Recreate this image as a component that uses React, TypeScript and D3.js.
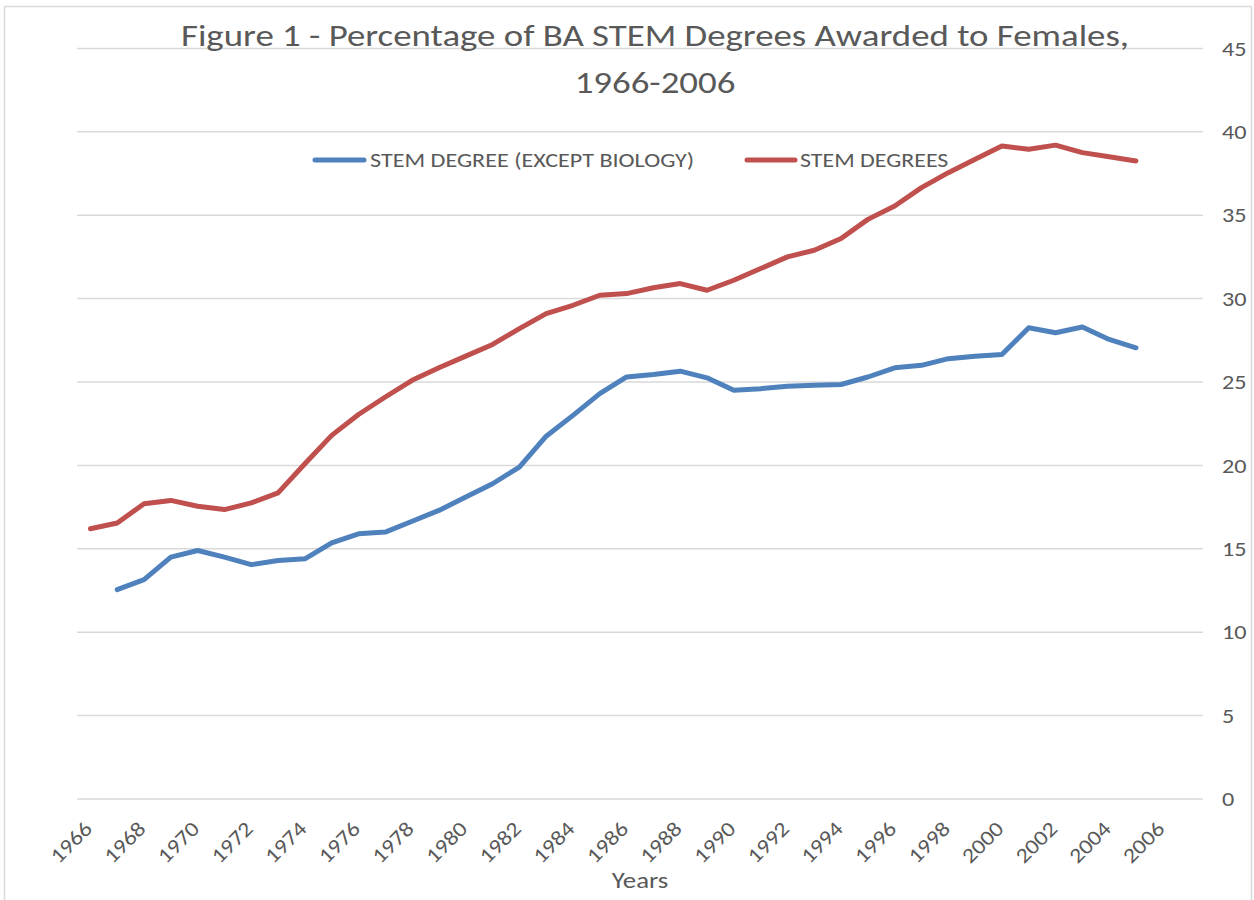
import React from "react";
import * as d3 from "d3";

const years: number[] = d3.range(1966, 2008);
const tickYears: number[] = d3.range(1966, 2007, 2);
const yTicks: number[] = [0, 5, 10, 15, 20, 25, 30, 35, 40, 45];

const stemYears: number[] = d3.range(1966, 2006);
const stemValues: number[] = [
  16.2, 16.55, 17.7, 17.9, 17.55, 17.35, 17.75, 18.35, 20.1, 21.8,
  23.05, 24.1, 25.1, 25.85, 26.55, 27.25, 28.2, 29.1, 29.6, 30.2,
  30.3, 30.65, 30.9, 30.5, 31.1, 31.8, 32.5, 32.9, 33.6, 34.75,
  35.55, 36.65, 37.55, 38.35, 39.15, 38.95, 39.2, 38.75, 38.5, 38.25,
];

const exBioYears: number[] = d3.range(1967, 2006);
const exBioValues: number[] = [
  12.55, 13.15, 14.5, 14.9, 14.5, 14.05, 14.3, 14.4, 15.35,
  15.9, 16.0, 16.65, 17.3, 18.1, 18.9, 19.9, 21.75, 23.0, 24.3,
  25.3, 25.45, 25.65, 25.25, 24.5, 24.6, 24.75, 24.8, 24.85, 25.3,
  25.85, 26.0, 26.4, 26.55, 26.65, 28.25, 27.95, 28.3, 27.55, 27.05,
];

const titleLines: string[] = [
  "Figure 1 - Percentage of BA STEM Degrees Awarded to Females,",
  "1966-2006",
];
const seriesNames: string[] = ["STEM DEGREE (EXCEPT BIOLOGY)", "STEM DEGREES"];
const seriesColors: string[] = ["#4F81BD", "#C0504D"];

const FONT = "Carlito, Lato, 'Open Sans', sans-serif";
const TEXT = "#595959";

export default function App() {
  const W = 1254;
  const H = 900;
  const x = d3.scaleBand<number>().domain(years).range([77, 1203]).padding(0);
  const cx = (yr: number) => (x(yr) as number) + x.bandwidth() / 2;
  const y = d3.scaleLinear().domain([0, 45]).range([799, 48.4]);

  const line = d3
    .line<[number, number]>()
    .x((d) => cx(d[0]))
    .y((d) => y(d[1]));

  const exBio: [number, number][] = exBioYears.map((yr, i) => [yr, exBioValues[i]]);
  const stem: [number, number][] = stemYears.map((yr, i) => [yr, stemValues[i]]);

  return (
    <svg
      width={W}
      height={H}
      style={{ position: "absolute", left: 0, top: 0, background: "#fff" }}
      fontFamily={FONT}
    >
      <rect x={0} y={0} width={W} height={H} fill="#fff" />
      <rect x={4.5} y={6.5} width={1247} height={920} fill="none" stroke="#d9d9d9" strokeWidth={1.5} />

      {yTicks.map((t) => (
        <g key={t}>
          <line x1={77} x2={1203} y1={y(t)} y2={y(t)} stroke="#d9d9d9" strokeWidth={1.5} />
          <text
            transform={`translate(1222,${y(t)}) scale(1.18,1)`}
            dy="0.35em"
            fontSize={20.5}
            fill={TEXT}
            textAnchor="start"
          >
            {t}
          </text>
        </g>
      ))}

      {tickYears.map((yr) => (
        <text
          key={yr}
          transform={`translate(${cx(yr) + 3},${830}) rotate(-45) scale(1.15,1)`}
          fontSize={21}
          fill={TEXT}
          textAnchor="end"
        >
          {yr}
        </text>
      ))}

      <text transform="translate(640,888) scale(1.22,1)" fontSize={22} fill={TEXT} textAnchor="middle">
        Years
      </text>

      {titleLines.map((t, i) => (
        <text
          key={i}
          transform={`translate(655,${46 + i * 47}) scale(1.17,1)`}
          fontSize={31.5}
          fill={TEXT}
          textAnchor="middle"
        >
          {t}
        </text>
      ))}

      <path d={line(exBio) || ""} fill="none" stroke={seriesColors[0]} strokeWidth={5} strokeLinejoin="round" strokeLinecap="round" />
      <path d={line(stem) || ""} fill="none" stroke={seriesColors[1]} strokeWidth={5} strokeLinejoin="round" strokeLinecap="round" />

      <line x1={315} x2={364} y1={160} y2={160} stroke={seriesColors[0]} strokeWidth={5} strokeLinecap="round" />
      <text transform="translate(370,160) scale(1.15,1)" dy="0.35em" fontSize={21} fill={TEXT}>
        {seriesNames[0]}
      </text>
      <line x1={747} x2={795} y1={160} y2={160} stroke={seriesColors[1]} strokeWidth={5} strokeLinecap="round" />
      <text transform="translate(800,160) scale(1.14,1)" dy="0.35em" fontSize={21} fill={TEXT}>
        {seriesNames[1]}
      </text>
    </svg>
  );
}
